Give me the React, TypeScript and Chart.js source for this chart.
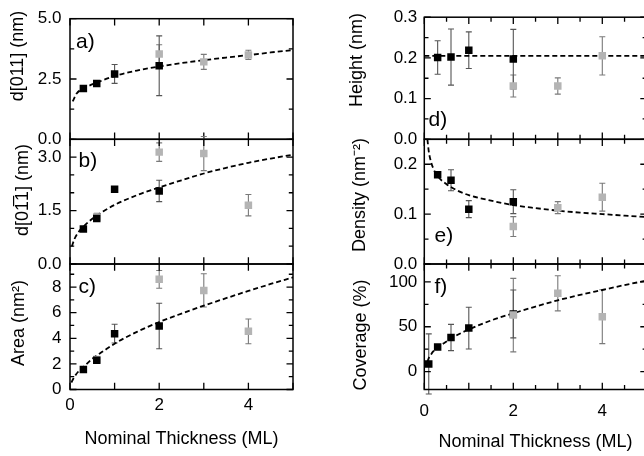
import React, { useEffect, useRef } from "react";
import { Chart, registerables } from "chart.js";

Chart.register(...registerables);

// ---------------- DATA ----------------
// Panel a) d[011] (nm)
const aBlackX = [0.3, 0.6, 1, 2];
const aBlackY = [2.11, 2.31, 2.71, 3.05];
const aBlackErr = [0, 0, 0.39, 1.24];
const aGrayX = [2, 3, 4];
const aGrayY = [3.54, 3.21, 3.5];
const aGrayErr = [0.38, 0.31, 0.19];
const aFitX = [0.06, 0.15, 0.3, 0.6, 1, 1.5, 2, 2.5, 3, 3.5, 4, 4.5, 5];
const aFitY = [1.57, 1.9, 2.1, 2.35, 2.62, 2.85, 3.02, 3.16, 3.28, 3.39, 3.49, 3.6, 3.7];
const aYTicks = [0, 1.25, 2.5, 3.75, 5];
const aYLabels = [0, 2.5, 5];

// Panel b) d[0-11] (nm)
const bBlackX = [0.3, 0.6, 1, 2];
const bBlackY = [0.98, 1.28, 2.1, 2.05];
const bBlackErr = [0, 0, 0, 0.3];
const bGrayX = [0.6, 2, 3, 4];
const bGrayY = [1.32, 3.14, 3.1, 1.65];
const bGrayErr = [0.1, 0.26, 0.48, 0.3];
const bFitX = [0.04, 0.1, 0.2, 0.3, 0.5, 0.75, 1, 1.5, 2, 2.5, 3, 3.5, 4, 4.5, 5];
const bFitY = [0.49, 0.7, 0.91, 1.05, 1.27, 1.48, 1.66, 1.93, 2.15, 2.35, 2.54, 2.7, 2.84, 2.96, 3.07];
const bYTicks = [0, 0.5, 1, 1.5, 2, 2.5, 3, 3.5];
const bYLabels = [0, 1.5, 3];

// Panel c) Area (nm2)
const cBlackX = [0.3, 0.6, 1, 2];
const cBlackY = [1.56, 2.28, 4.36, 4.96];
const cBlackErr = [0, 0, 0.73, 1.78];
const cGrayX = [0.6, 2, 3, 4];
const cGrayY = [2.35, 8.6, 7.74, 4.54];
const cGrayErr = [0, 0.69, 1.3, 0.97];
const cFitX = [0.03, 0.1, 0.2, 0.3, 0.5, 0.75, 1, 1.5, 2, 2.5, 3, 3.5, 4, 4.5, 5];
const cFitY = [0.55, 1.0, 1.45, 1.75, 2.4, 3.0, 3.58, 4.5, 5.27, 5.93, 6.55, 7.13, 7.7, 8.24, 8.76];
const cYTicks = [0, 1, 2, 3, 4, 5, 6, 7, 8, 9];
const cYLabels = [0, 2, 4, 6, 8];

// Panel d) Height (nm)
const dBlackX = [0.3, 0.6, 1, 2];
const dBlackY = [0.201, 0.202, 0.219, 0.197];
const dBlackErr = [0.041, 0.069, 0.045, 0.073];
const dGrayX = [2, 3, 4];
const dGrayY = [0.131, 0.131, 0.205];
const dGrayErr = [0.027, 0.02, 0.047];
const dFitX = [0, 5];
const dFitY = [0.205, 0.205];
const dYTicks = [0, 0.05, 0.1, 0.15, 0.2, 0.25, 0.3];
const dYLabels = [0, 0.1, 0.2, 0.3];

// Panel e) Density (nm-2)
const eBlackX = [0.3, 0.6, 1, 2];
const eBlackY = [0.179, 0.168, 0.11, 0.125];
const eBlackErr = [0, 0.021, 0.017, 0.024];
const eGrayX = [2, 3, 4];
const eGrayY = [0.075, 0.113, 0.134];
const eGrayErr = [0.02, 0.012, 0.028];
const eFitX = [0.07, 0.1, 0.15, 0.2, 0.3, 0.5, 0.75, 1, 1.5, 2, 2.5, 3, 3.5, 4, 4.5, 5];
const eFitY = [0.25, 0.226, 0.205, 0.192, 0.176, 0.16, 0.147, 0.138, 0.127, 0.118, 0.112, 0.107, 0.103, 0.1, 0.097, 0.094];
const eYTicks = [0, 0.05, 0.1, 0.15, 0.2, 0.25];
const eYLabels = [0, 0.1, 0.2];

// Panel f) Coverage (%)
const fBlackX = [0.1, 0.3, 0.6, 1, 2];
const fBlackY = [8.5, 27.5, 38, 48.5, 64.3];
const fBlackErr = [33.6, 0, 14.6, 23.3, 26.7];
const fGrayX = [2, 3, 4];
const fGrayY = [63, 87.3, 61.2];
const fGrayErr = [41, 19.6, 30];
const fFitX = [0.07, 0.1, 0.15, 0.2, 0.3, 0.5, 0.75, 1, 1.5, 2, 2.5, 3, 3.5, 4, 4.5, 5];
const fFitY = [11, 15, 19, 22.5, 27, 33.5, 41, 47, 57, 65, 72.5, 79.5, 85.5, 91, 96.5, 101.5];
const fYTicks = [0, 25, 50, 75, 100];
const fYLabels = [0, 50, 100];

// x axis ticks
const leftXTicks = [0, 1, 2, 3, 4, 5];
const leftXMajor = [0, 1, 2, 3, 4, 5];
const rightXTicks = [0, 0.5, 1, 1.5, 2, 2.5, 3, 3.5, 4, 4.5, 5];
const rightXMajor = [0, 1, 2, 3, 4, 5];
const xLabels = [0, 2, 4];
const xTitle = "Nominal Thickness (ML)";

// ---------------- LAYOUT / STYLE ----------------
const CW = 660;
const CH = 456;
const COL_LEFT = [70, 424.3];
const COL_RIGHT = [293, 646.8];
const ROW_TOP = [14.7, 139.3, 264];
const ROW_BOTTOM = [139.3, 264, 389.5];
const Y_AXIS_W = 60;
const X_AXIS_H = [60.3, 63.8];
const X_LABEL_PAD = [5.5, 11.5];
const Y_LABEL_PAD = [8.5, 7];
const FONT = "'Liberation Sans', Arial, Helvetica, sans-serif";
const TICK_SIZE = 17;
const BLACK = "#000000";
const GRAY = "#b4b4b4";

type Series = { x: number[]; y: number[]; err?: number[] };
interface PanelDef {
  letter: string;
  yTitle: string;
  col: number;
  row: number;
  black: Series;
  gray: Series;
  fit: Series;
  grayOnTop?: boolean;
  yMin: number;
  yMax: number;
  yTicks: number[];
  yLabels: number[];
  yDec: number;
  titlePos: [number, number];
  letterPos: [number, number];
}

const PANELS: PanelDef[] = [
  {
    letter: "a)", yTitle: "d[011] (nm)", col: 0, row: 0,
    black: { x: aBlackX, y: aBlackY, err: aBlackErr },
    gray: { x: aGrayX, y: aGrayY, err: aGrayErr },
    fit: { x: aFitX, y: aFitY },
    yMin: 0, yMax: 5, yTicks: aYTicks, yLabels: aYLabels, yDec: 1,
    titlePos: [18, 56], letterPos: [76, 42],
  },
  {
    letter: "b)", yTitle: "d[01\u03051] (nm)", col: 0, row: 1,
    black: { x: bBlackX, y: bBlackY, err: bBlackErr },
    gray: { x: bGrayX, y: bGrayY, err: bGrayErr },
    fit: { x: bFitX, y: bFitY },
    yMin: 0, yMax: 3.5, yTicks: bYTicks, yLabels: bYLabels, yDec: 1,
    titlePos: [23, 190], letterPos: [78.5, 161.7],
  },
  {
    letter: "c)", yTitle: "Area (nm\u00b2)", col: 0, row: 2,
    black: { x: cBlackX, y: cBlackY, err: cBlackErr },
    gray: { x: cGrayX, y: cGrayY, err: cGrayErr },
    fit: { x: cFitX, y: cFitY },
    yMin: 0, yMax: 9.8, yTicks: cYTicks, yLabels: cYLabels, yDec: 0,
    titlePos: [19, 323], letterPos: [78.5, 287.5],
  },
  {
    letter: "d)", yTitle: "Height (nm)", col: 1, row: 0,
    black: { x: dBlackX, y: dBlackY, err: dBlackErr },
    gray: { x: dGrayX, y: dGrayY, err: dGrayErr },
    fit: { x: dFitX, y: dFitY },
    yMin: 0, yMax: 0.3, yTicks: dYTicks, yLabels: dYLabels, yDec: 1,
    titlePos: [357, 60], letterPos: [428.5, 120.5],
  },
  {
    letter: "e)", yTitle: "Density (nm\u207b\u00b2)", col: 1, row: 1,
    black: { x: eBlackX, y: eBlackY, err: eBlackErr },
    gray: { x: eGrayX, y: eGrayY, err: eGrayErr },
    fit: { x: eFitX, y: eFitY },
    yMin: 0, yMax: 0.25, yTicks: eYTicks, yLabels: eYLabels, yDec: 1,
    titlePos: [360, 195], letterPos: [434.5, 236],
  },
  {
    letter: "f)", yTitle: "Coverage (%)", col: 1, row: 2,
    black: { x: fBlackX, y: fBlackY, err: fBlackErr },
    gray: { x: fGrayX, y: fGrayY, err: fGrayErr },
    fit: { x: fFitX, y: fFitY },
    grayOnTop: true,
    yMin: -20, yMax: 120, yTicks: fYTicks, yLabels: fYLabels, yDec: 0,
    titlePos: [361, 335], letterPos: [434.5, 287],
  },
];

const toPts = (xs: number[], ys: number[]) => xs.map((x, i) => ({ x, y: ys[i] }));

function buildConfig(p: PanelDef): any {
  const isBottom = p.row === 2;
  const xTicks = p.col === 0 ? leftXTicks : rightXTicks;
  const xMajor = p.col === 0 ? leftXMajor : rightXMajor;
  const left = COL_LEFT[p.col];
  const right = COL_RIGHT[p.col];
  const top = ROW_TOP[p.row];
  const bottom = ROW_BOTTOM[p.row];
  const xH = isBottom ? X_AXIS_H[p.col] : 0;

  const decoPlugin = {
    id: "panelDeco",
    beforeDatasetsDraw(chart: any) {
      const { ctx, scales } = chart;
      ctx.save();
      ctx.lineWidth = 1.1;
      chart.data.datasets.forEach((ds: any) => {
        if (!ds.errors) return;
        ctx.strokeStyle = ds.errColor;
        ds.data.forEach((pt: any, i: number) => {
          const e = ds.errors[i];
          if (!e) return;
          const px = scales.x.getPixelForValue(pt.x);
          const y1 = scales.y.getPixelForValue(pt.y + e);
          const y2 = scales.y.getPixelForValue(pt.y - e);
          ctx.beginPath();
          ctx.moveTo(px, y1);
          ctx.lineTo(px, y2);
          ctx.moveTo(px - 3, y1);
          ctx.lineTo(px + 3, y1);
          ctx.moveTo(px - 3, y2);
          ctx.lineTo(px + 3, y2);
          ctx.stroke();
        });
      });
      ctx.restore();
    },
    afterDraw(chart: any) {
      const { ctx, chartArea: ca, scales } = chart;
      ctx.save();
      ctx.strokeStyle = "#000";
      ctx.lineWidth = 1.3;
      ctx.beginPath();
      p.yTicks.forEach((v) => {
        const y = scales.y.getPixelForValue(v);
        const len = p.yLabels.includes(v) ? 6.5 : 4.2;
        ctx.moveTo(ca.left, y);
        ctx.lineTo(ca.left + len, y);
        ctx.moveTo(ca.right, y);
        ctx.lineTo(ca.right - len, y);
      });
      xTicks.forEach((v) => {
        const x = scales.x.getPixelForValue(v);
        const len = xMajor.includes(v) ? 6.8 : 4.5;
        ctx.moveTo(x, ca.top);
        ctx.lineTo(x, ca.top + len);
        ctx.moveTo(x, ca.bottom);
        ctx.lineTo(x, ca.bottom - len);
      });
      ctx.stroke();
      ctx.lineWidth = 1.5;
      ctx.strokeRect(ca.left, ca.top, ca.right - ca.left, ca.bottom - ca.top);

      ctx.fillStyle = "#000";
      ctx.font = `21px ${FONT}`;
      ctx.textAlign = "left";
      ctx.textBaseline = "middle";
      ctx.fillText(p.letter, p.letterPos[0], p.letterPos[1]);

      ctx.font = `18px ${FONT}`;
      ctx.textAlign = "center";
      ctx.translate(p.titlePos[0], p.titlePos[1]);
      ctx.rotate(-Math.PI / 2);
      ctx.fillText(p.yTitle, 0, 0);
      ctx.restore();
    },
  };

  return {
    type: "scatter",
    data: {
      datasets: [
        {
          label: "fit",
          data: toPts(p.fit.x, p.fit.y),
          showLine: true,
          borderColor: BLACK,
          borderWidth: 1.8,
          borderDash: [5, 3],
          pointRadius: 0,
          fill: false,
          cubicInterpolationMode: "monotone",
          order: 3,
        },
        {
          label: "gray",
          data: toPts(p.gray.x, p.gray.y),
          errors: p.gray.err,
          errColor: "#7a7a7a",
          pointStyle: "rect",
          pointRadius: 5.3,
          backgroundColor: GRAY,
          borderColor: GRAY,
          borderWidth: 0,
          order: p.grayOnTop ? 0 : 2,
        },
        {
          label: "black",
          data: toPts(p.black.x, p.black.y),
          errors: p.black.err,
          errColor: "#555555",
          pointStyle: "rect",
          pointRadius: 5.3,
          backgroundColor: BLACK,
          borderColor: BLACK,
          borderWidth: 0,
          order: 1,
        },
      ],
    },
    options: {
      responsive: false,
      animation: false,
      devicePixelRatio: 1,
      events: [],
      layout: {
        padding: {
          left: left - Y_AXIS_W,
          right: CW - right,
          top: top,
          bottom: CH - bottom - xH,
        },
      },
      plugins: { legend: { display: false }, tooltip: { enabled: false }, title: { display: false } },
      scales: {
        x: {
          type: "linear",
          min: 0,
          max: 5,
          display: isBottom,
          afterBuildTicks: (s: any) => {
            s.ticks = xTicks.map((v) => ({ value: v }));
          },
          afterFit: (s: any) => {
            s.height = xH;
          },
          grid: { display: false, drawTicks: false },
          border: { display: false },
          ticks: {
            autoSkip: false,
            maxRotation: 0,
            padding: X_LABEL_PAD[p.col],
            color: "#000",
            font: { family: FONT, size: TICK_SIZE },
            callback: (v: any) => (xLabels.includes(v) ? String(v) : ""),
          },
          title: {
            display: isBottom,
            text: xTitle,
            color: "#000",
            padding: { top: 0, bottom: 0 },
            font: { family: FONT, size: 18 },
          },
        },
        y: {
          type: "linear",
          min: p.yMin,
          max: p.yMax,
          afterBuildTicks: (s: any) => {
            s.ticks = p.yTicks.map((v) => ({ value: v }));
          },
          afterFit: (s: any) => {
            s.width = Y_AXIS_W;
          },
          grid: { display: false, drawTicks: false },
          border: { display: false },
          ticks: {
            autoSkip: false,
            padding: Y_LABEL_PAD[p.col],
            color: "#000",
            font: { family: FONT, size: TICK_SIZE },
            callback: (v: any) => (p.yLabels.includes(v) ? Number(v).toFixed(p.yDec) : ""),
          },
        },
      },
    },
    plugins: [decoPlugin],
  };
}

function PanelCanvas({ p }: { p: PanelDef }) {
  const ref = useRef<HTMLCanvasElement | null>(null);
  useEffect(() => {
    const c = ref.current;
    if (!c) return;
    const chart = new Chart(c, buildConfig(p));
    return () => chart.destroy();
  }, [p]);
  return (
    <canvas
      ref={ref}
      width={CW}
      height={CH}
      style={{ position: "absolute", left: 0, top: 0, width: CW, height: CH }}
    />
  );
}

export default function App() {
  return (
    <div
      style={{
        position: "fixed",
        left: 0,
        top: 0,
        width: 644,
        height: 456,
        overflow: "hidden",
        background: "#ffffff",
      }}
    >
      {PANELS.map((p, i) => (
        <PanelCanvas key={i} p={p} />
      ))}
    </div>
  );
}
